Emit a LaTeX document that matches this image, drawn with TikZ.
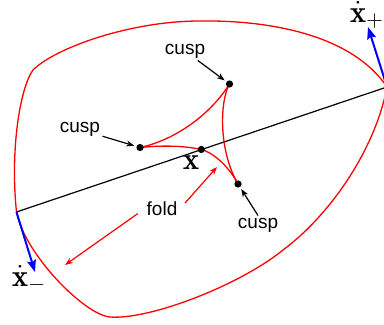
\documentclass[tikz,border=0pt]{standalone}
\usepackage{amsmath}
\usepackage{fontspec}
\newfontfamily\labelfont{Liberation Sans}
\usetikzlibrary{arrows.meta}

\begin{document}
\begin{tikzpicture}[x=0.5pt,y=-0.5pt,
  curve/.style={red, line width=0.65pt},
  cusp/.style={circle, fill=black, inner sep=0pt, minimum size=3.6pt},
  word/.style={font=\labelfont\fontsize{9.5}{11}\selectfont, inner sep=1pt},
  sym/.style={font=\fontsize{15.5}{18}\selectfont, inner sep=0pt},
  pointer/.style={-{Stealth[length=4pt,width=3pt]}, line width=0.6pt, shorten >=1pt},
  vel/.style={blue, line width=1pt, -{Stealth[length=6pt,width=4.5pt,inset=1pt]}}]
  \useasboundingbox (0,0) rectangle (384,325);
  % chord ends and the caustic points
  \coordinate (xl) at (16.5,212);
  \coordinate (xr) at (387,87);
  \coordinate (T) at (229.5,84);
  \coordinate (L) at (140,147.5);
  \coordinate (B) at (238,184);
  \coordinate (X) at (201.3,149.5);
  % outer boundary
  \draw[curve] (xr) .. controls (352,35) and (270,20) .. (200,21)
    .. controls (130,21) and (55,48) .. (33,70)
    .. controls (20,88) and (10,150) .. (xl)
    .. controls (25,255) and (85,315) .. (110,317)
    .. controls (150,320) and (240,285) .. (283,250)
    .. controls (330,215) and (375,150) .. (xr);
  \draw[line width=0.6pt] (xl) -- (xr);
  % caustic
  \draw[curve] (L) .. controls (175,140) and (210,115) .. (T);
  \draw[curve] (T) .. controls (220,100) and (218,150) .. (B);
  \draw[curve] (L) .. controls (165,145) and (185,146) .. (X)
    .. controls (212,152) and (228,165) .. (B);
  \node[cusp] (cT) at (T) {};
  \node[cusp] (cL) at (L) {};
  \node[cusp] (cB) at (B) {};
  \node[cusp] (cX) at (X) {};
  % labels
  \node[word] (lT) at (185,51) {cusp};
  \node[word] (lL) at (80,129.5) {cusp};
  \node[word] (lB) at (258,225) {cusp};
  \node[word] (fold) at (162,209) {fold};
  \node[sym] (lX) at (191,163) {$\mathbf{x}$};
  \node[sym] (xm) at (29,279) {$\dot{\mathbf{x}}_-$};
  \node[sym] (xp) at (367,15) {$\dot{\mathbf{x}}_+$};
  \draw[pointer] (lT) -- (cT);
  \draw[pointer] (lL) -- (cL);
  \draw[pointer] (lB.north) -- (cB);
  \coordinate (f1) at (217,167);
  \coordinate (f2) at (65,265);
  \draw[pointer, red, shorten >=0pt, shorten <=4pt] (fold.east) -- (f1);
  \draw[pointer, red, shorten >=0pt, shorten <=4pt] (fold.west) -- (f2);
  % velocities
  \coordinate (vm) at (35,272);
  \coordinate (vp) at (368,27);
  \draw[vel] (xl) -- (vm);
  \draw[vel] (xr) -- (vp);
\end{tikzpicture}
\end{document}
